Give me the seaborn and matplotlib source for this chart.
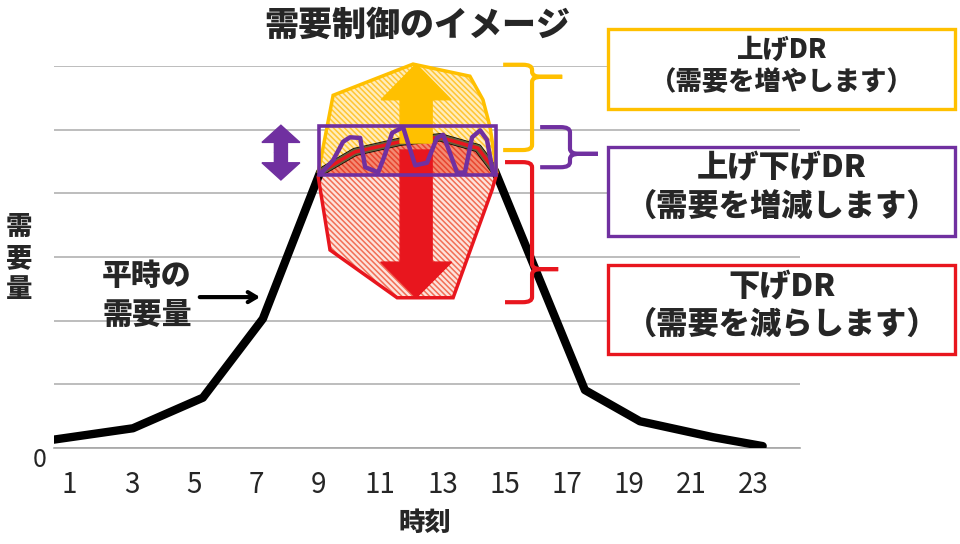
import numpy as np
import matplotlib
matplotlib.use("Agg")
import matplotlib.pyplot as plt
import seaborn as sns
from matplotlib.patches import Polygon, Rectangle, FancyArrow, PathPatch
from matplotlib.path import Path

# ---------------- data ----------------
time_pts = [0.47, 3.04, 5.29, 7.22, 9.06, 10.18, 11.63, 12.92, 14.14, 14.69, 17.58, 19.35, 21.7, 23.3]
demand_pts = [0.13, 0.31, 0.79, 2.03, 4.33, 4.65, 4.81, 4.88, 4.71, 4.35, 0.91, 0.42, 0.17, 0.03]
peak_slice = slice(4, 10)

dr_wave_t = [9.12, 9.48, 9.80, 10.02, 10.35, 10.51, 10.93, 11.12, 11.38, 11.73, 11.89, 12.12,
             12.50, 12.82, 13.02, 13.24, 13.47, 13.72, 13.95, 14.21, 14.43, 14.62]
dr_wave_v = [4.33, 4.52, 4.81, 4.88, 4.87, 4.41, 4.33, 4.57, 4.95, 5.04, 4.79, 4.44,
             4.48, 4.87, 4.92, 4.63, 4.32, 4.33, 4.88, 4.99, 4.84, 4.33]

up_area_t = [9.00, 9.48, 12.05, 13.88, 14.30, 14.53, 14.75]
up_area_v = [4.32, 5.54, 6.03, 5.84, 5.47, 5.04, 4.32]
down_area_t = [9.00, 9.38, 11.54, 13.34, 14.59, 14.75]
down_area_v = [4.26, 3.11, 2.36, 2.36, 4.05, 4.32]

box_t = (9.03, 14.72)
box_v = (4.29, 5.06)

xtick_labels = [str(i) for i in range(1, 24, 2)]
title = "需要制御のイメージ"
ylabel = "需\n要\n量"
xlabel = "時刻"
normal_label = "平時の\n需要量"
boxes = [
    ("上げDR", "（需要を増やします）", "#FFC000", 19),
    ("上げ下げDR", "（需要を増減します）", "#7030A0", 22.5),
    ("下げDR", "（需要を減らします）", "#E8161E", 22.5),
]

# ---------------- style ----------------
sns.set_theme(style="white")
plt.rcParams["font.family"] = ["Noto Sans CJK JP", "DejaVu Sans"]
plt.rcParams["hatch.linewidth"] = 1.1

YEL = "#FFC000"
PUR = "#7030A0"
RED = "#E8161E"
OLIVE = "#67603A"
BOLD = "heavy"

W, H = 960, 544
fig = plt.figure(figsize=(9.6, 5.44), dpi=100)
ax = fig.add_axes([54 / W, 1 - 448 / H, 746 / W, 382 / H])
ax.set_xlim(0.5, 24.5)
ax.set_ylim(0, 6)

for s in ["left", "top", "right"]:
    ax.spines[s].set_visible(False)
ax.spines["bottom"].set_color("#A6A6A6")
ax.spines["bottom"].set_linewidth(1.2)

ax.set_yticks(range(0, 7))
ax.set_yticklabels([])
ax.tick_params(axis="y", length=0)
ax.yaxis.grid(True, color="#B8B8B8", linewidth=1.3)
ax.set_axisbelow(True)

ax.set_xticks(np.arange(0.5, 25, 1))
ax.set_xticklabels([])
ax.tick_params(axis="x", which="major", length=7, width=1, color="#A6A6A6", direction="out")
ax.set_xticks(range(1, 24, 2), minor=True)
ax.set_xticklabels(xtick_labels, minor=True, fontsize=20)
ax.tick_params(axis="x", which="minor", length=0, pad=16)

# ---------------- shapes ----------------
peak_t = time_pts[peak_slice]
peak_v = demand_pts[peak_slice]

lower = list(zip(down_area_t, down_area_v))
cap = [(box_t[0], box_v[0])] + list(zip(peak_t, peak_v)) + [(box_t[1], box_v[0])]
ax.add_patch(Polygon(lower, closed=True, facecolor="#FDE3DC", edgecolor="#F26E55",
                     hatch="\\" * 6, linewidth=0, zorder=2, clip_on=False))
ax.add_patch(Polygon(cap, closed=True, facecolor="#F48A72", edgecolor="#E8452F",
                     hatch="\\" * 6, linewidth=0, zorder=2, clip_on=False))
red_outline = lower + list(zip(peak_t[::-1], peak_v[::-1]))
ax.add_patch(Polygon(red_outline, closed=True, fill=False, edgecolor=RED,
                     linewidth=2.5, zorder=3.5, clip_on=False))

yel_poly = list(zip(up_area_t, up_area_v)) + list(zip(peak_t[::-1], peak_v[::-1]))
ax.add_patch(Polygon(yel_poly, closed=True, facecolor="#FFEDBC", edgecolor="#FFC534",
                     hatch="\\" * 6, linewidth=0, zorder=2, clip_on=False))
ax.add_patch(Polygon(list(zip(up_area_t, up_area_v)), closed=False, fill=False,
                     edgecolor=YEL, linewidth=2.5, zorder=3.5, clip_on=False))

# demand curve
sns.lineplot(x=time_pts, y=demand_pts, ax=ax, color="black", linewidth=6,
             estimator=None, sort=False, zorder=3)
ax.plot(peak_t, peak_v, color=OLIVE, linewidth=5, zorder=3.2, solid_capstyle="butt")

# arrows
ax.add_patch(FancyArrow(12.15, 4.79, 0, 1.24, width=1.03, head_width=2.25, head_length=0.56,
                        length_includes_head=True, color=YEL, zorder=4, clip_on=False))
ax.add_patch(FancyArrow(12.15, 4.68, 0, -2.32, width=1.03, head_width=2.28, head_length=0.56,
                        length_includes_head=True, color=RED, zorder=4, clip_on=False))
for d in (0.43, -0.43):
    ax.add_patch(FancyArrow(7.80, 4.64, 0, d, width=0.42, head_width=1.22, head_length=0.27,
                            length_includes_head=True, color=PUR, zorder=4))

# purple DR wave and box
ax.plot(dr_wave_t, dr_wave_v, color=PUR, linewidth=3.2, zorder=5, solid_joinstyle="round")
ax.add_patch(Rectangle((box_t[0], box_v[0]), box_t[1] - box_t[0], box_v[1] - box_v[0],
                       fill=False, edgecolor=PUR, linewidth=2.6, zorder=5))

# braces
def brace(x_end, x_spine, x_tip, y_top, y_bot, y_tip, color, rx=0.3, ry=0.08):
    verts = [(x_end, y_top), (x_spine - rx, y_top),
             (x_spine, y_top), (x_spine, y_top - ry),
             (x_spine, y_tip + ry),
             (x_spine, y_tip), (x_spine + rx, y_tip),
             (x_tip, y_tip),
             (x_spine + rx, y_tip),
             (x_spine, y_tip), (x_spine, y_tip - ry),
             (x_spine, y_bot + ry),
             (x_spine, y_bot), (x_spine - rx, y_bot),
             (x_end, y_bot)]
    codes = [Path.MOVETO, Path.LINETO, Path.CURVE3, Path.CURVE3, Path.LINETO,
             Path.CURVE3, Path.CURVE3, Path.LINETO, Path.LINETO,
             Path.CURVE3, Path.CURVE3, Path.LINETO, Path.CURVE3, Path.CURVE3, Path.LINETO]
    ax.add_patch(PathPatch(Path(verts, codes), fill=False, edgecolor=color,
                           linewidth=3, zorder=5, clip_on=False, capstyle="butt"))

brace(14.95, 15.88, 16.85, 6.02, 4.68, 5.83, YEL)
brace(16.14, 17.10, 18.00, 5.04, 4.41, 4.62, PUR)
brace(15.01, 15.88, 16.72, 4.49, 2.29, 2.81, RED)

# annotation for normal demand
ax.annotate("", xy=(7.22, 2.37), xytext=(5.1, 2.37),
            arrowprops=dict(arrowstyle="->,head_length=0.5,head_width=0.3", color="black", lw=3),
            zorder=5)

# ---------------- figure texts ----------------
def fx(px):
    return px / W

def fy(py):
    return 1 - py / H

fig.text(fx(417), fy(25), title, fontsize=24.5, fontweight=BOLD, ha="center", va="center")
fig.text(fx(19), fy(258), ylabel, fontsize=19, fontweight=BOLD, ha="center", va="center",
         linespacing=1.1)
fig.text(fx(425), fy(523), xlabel, fontsize=19, fontweight=BOLD, ha="center", va="center")
fig.text(fx(40), fy(460), "0", fontsize=18, ha="center", va="center")
fig.text(fx(147), fy(295), normal_label, fontsize=21.5, fontweight=BOLD, ha="center",
         va="center", linespacing=1.3, zorder=6)

box_rows = [(29, 109, 50, 82), (147, 236, 168, 207), (265, 354, 287, 325)]
for (l1, l2, col, fs), (top, bot, y1, y2) in zip(boxes, box_rows):
    fig.add_artist(Rectangle((fx(608), fy(bot)), (955 - 608) / W, (bot - top) / H,
                             transform=fig.transFigure, facecolor="white", edgecolor=col,
                             linewidth=2.4, zorder=10))
    fig.text(fx(782), fy(y1), l1, fontsize=fs, fontweight=BOLD, ha="center", va="center", zorder=11)
    fig.text(fx(782), fy(y2), l2, fontsize=fs, fontweight=BOLD, ha="center", va="center", zorder=11)

fig.savefig("out.png", dpi=100)
